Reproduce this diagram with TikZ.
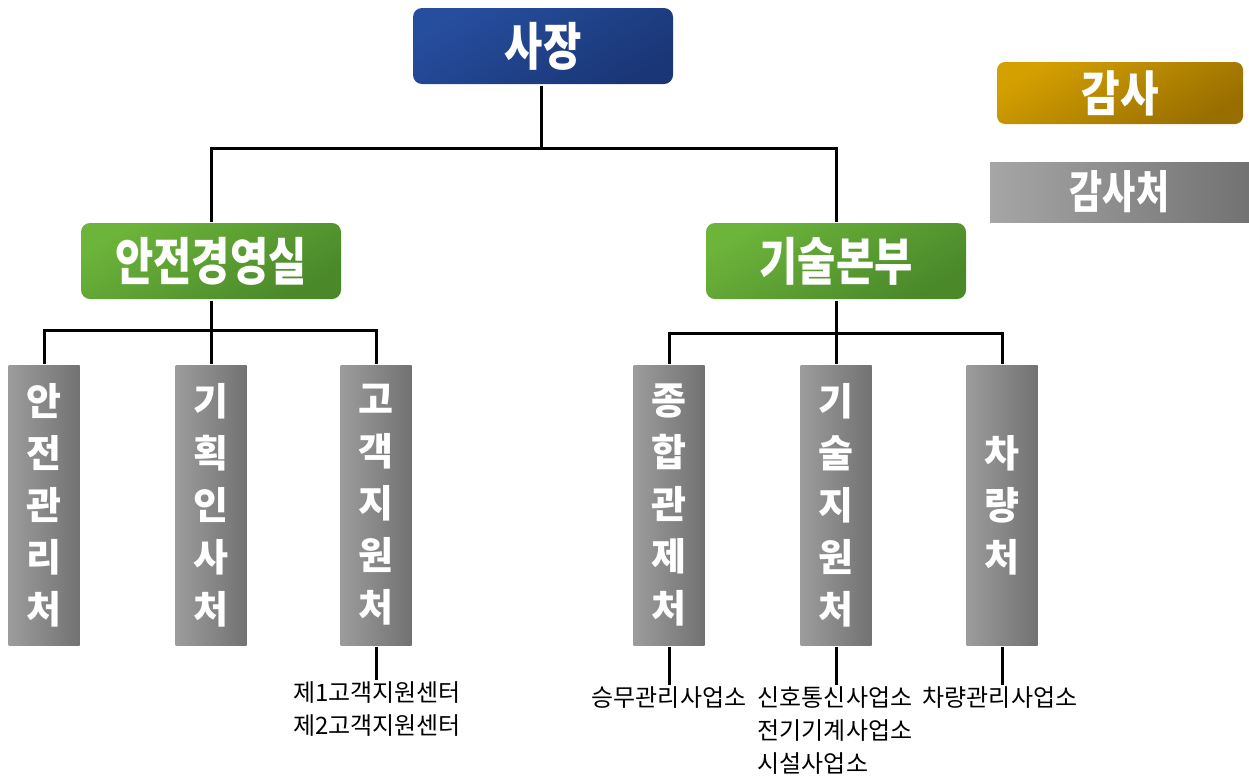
\documentclass[tikz,border=0pt]{standalone}
\usepackage{fontspec}
\newfontfamily\kr{Noto Sans CJK KR}
\definecolor{blueL}{RGB}{38,78,158}
\definecolor{blueD}{RGB}{26,54,118}
\definecolor{greenL}{RGB}{108,180,58}
\definecolor{greenD}{RGB}{74,136,42}
\definecolor{goldL}{RGB}{212,160,0}
\definecolor{goldD}{RGB}{152,110,0}
\definecolor{grayL}{RGB}{156,156,156}
\definecolor{grayD}{RGB}{114,114,114}
\newcommand{\tall}[1]{\scalebox{1.04}[1.28]{#1}}

\begin{document}
\begin{tikzpicture}[x=1pt,y=-1pt,line width=3pt,
box/.style={text=white,inner sep=0pt,font=\kr\bfseries\fontsize{40}{48}\selectfont},
headbox/.style={box,rounded corners=9pt,minimum width=260pt,minimum height=76pt},
deptbox/.style={box,minimum width=71pt,minimum height=280pt,align=center,
  left color=grayL,right color=grayD,font=\kr\bfseries\fontsize{38}{52}\selectfont},
unit/.style={anchor=north,inner sep=0pt,font=\kr\fontsize{24}{33}\selectfont}]
\useasboundingbox (0,0) rectangle (1249,777);

% top level
\node[headbox,top color=blueL,bottom color=blueD,shading angle=30] (ceo) at (543,46) {\tall{사장}};
\node[headbox,minimum width=246pt,minimum height=62pt,rounded corners=8pt,
  top color=goldL,bottom color=goldD,shading angle=30,font=\kr\bfseries\fontsize{42}{44}\selectfont]
  (audit) at (1120,93) {\scalebox{1}[1.15]{감사}};
\node[box,minimum width=259pt,minimum height=60pt,left color=grayL!90,right color=grayD,
  font=\kr\bfseries\fontsize{36}{40}\selectfont] (auditoff) at (1119.5,192) {\scalebox{1}[1.25]{감사처}};

% second level
\node[headbox,top color=greenL,bottom color=greenD,shading angle=30] (safety) at (211,261) {\tall{안전경영실}};
\node[headbox,top color=greenL,bottom color=greenD,shading angle=30] (tech) at (836,261) {\tall{기술본부}};

% departments
\node[deptbox] (safemgmt) at (44,505) {안\\전\\관\\리\\처};
\node[deptbox] (plan) at (211,505) {기\\획\\인\\사\\처};
\node[deptbox] (cust) at (376,505) {고\\객\\지\\원\\처};
\node[deptbox] (control) at (669,505) {종\\합\\관\\제\\처};
\node[deptbox] (techsup) at (836,505) {기\\술\\지\\원\\처};
\node[deptbox] (vehicle) at (1002,505) {차\\량\\처};

% offices
\node[unit,align=center] (custctr) at (377,680) {제1고객지원센터\\제2고객지원센터};
\node[unit] (crew) at (669,685) {승무관리사업소};
\node[unit,align=left] (techoff) at (835,685) {신호통신사업소\\전기기계사업소\\시설사업소};
\node[unit] (vehoff) at (1000,685) {차량관리사업소};

% connectors
\coordinate (j1) at (541,148);
\coordinate (j2) at (211,330);
\coordinate (j3) at (836,333);
\draw (ceo.south -| j1) -- (j1);
\draw (safety.north) |- (j1) -| (tech.north);
\draw (safety) -- (plan);
\draw (safemgmt.north) |- (j2) -| (cust.north);
\draw (tech) -- (techsup);
\draw (control.north) |- (j3) -| (vehicle.north);
\draw (cust.south) -- (cust.south |- custctr.north);
\draw (control.south) -- (control.south |- crew.north);
\draw (techsup.south) -- (techsup.south |- techoff.north);
\draw (vehicle.south) -- (vehicle.south |- vehoff.north);
\end{tikzpicture}
\end{document}
